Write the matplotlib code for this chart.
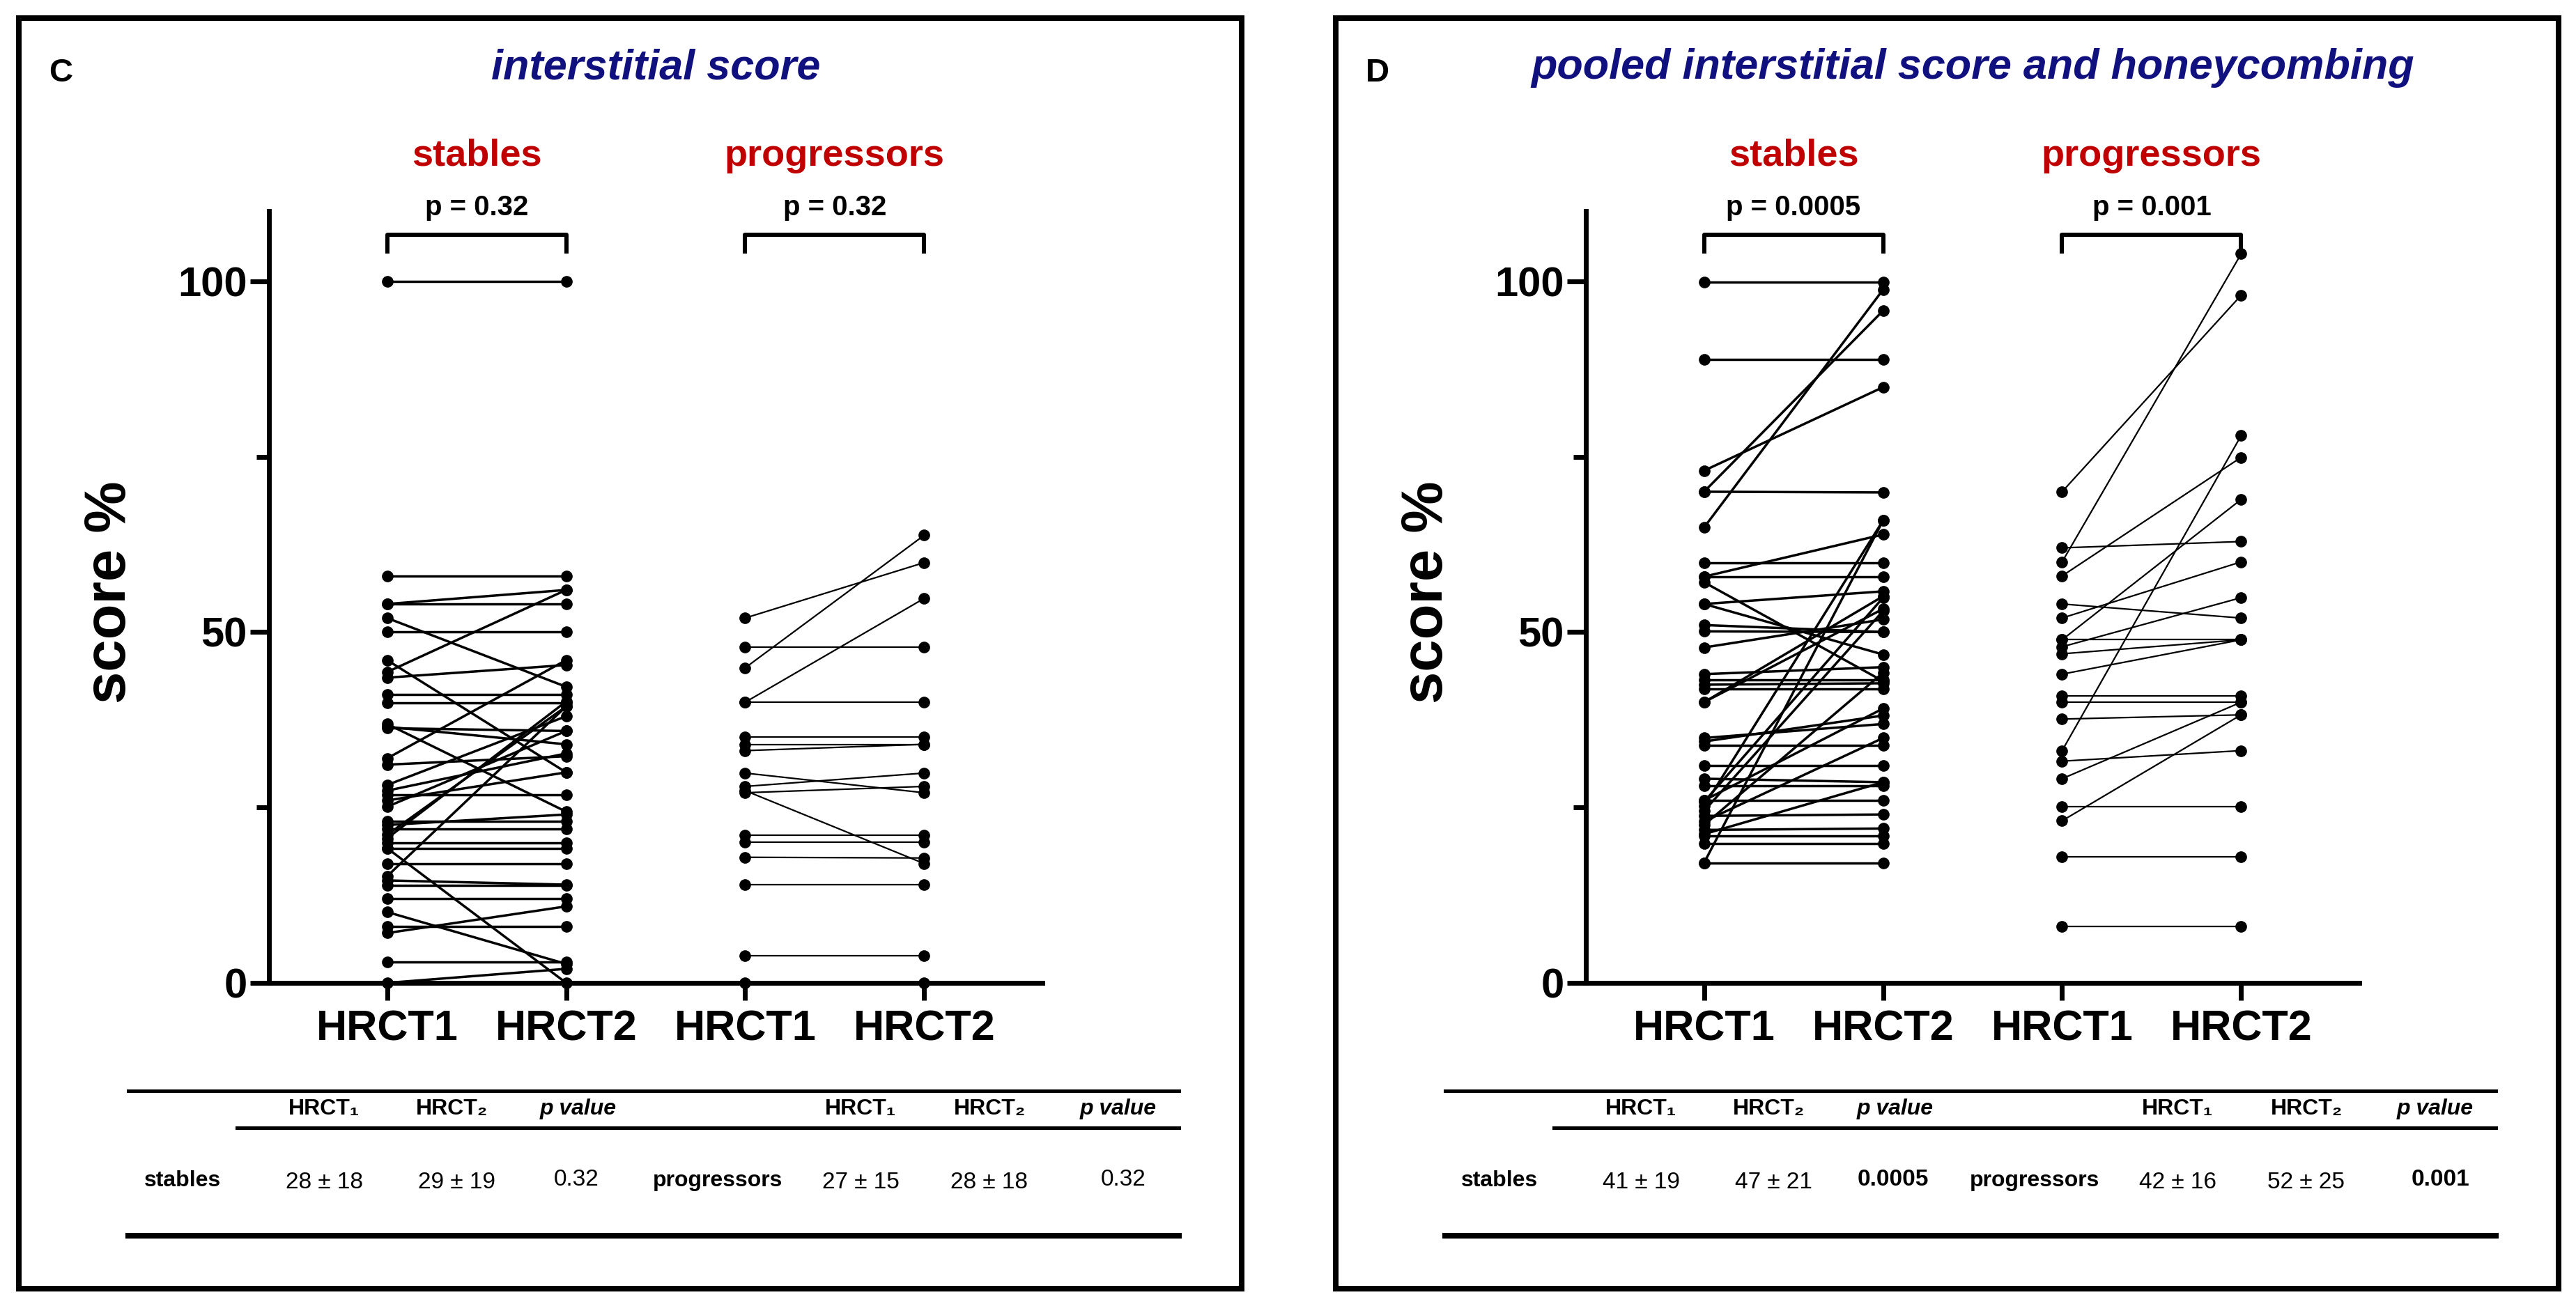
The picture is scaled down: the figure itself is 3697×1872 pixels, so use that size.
import matplotlib
matplotlib.use('Agg')
import matplotlib.pyplot as plt
from matplotlib.lines import Line2D
from matplotlib.patches import Rectangle

plt.rcParams['font.family'] = ['Liberation Sans', 'DejaVu Sans']

# ---- data (score %, HRCT1 -> HRCT2 per patient) ----
c_st_1 = [100, 58, 54, 54, 52, 50, 46, 44.3, 43.5, 41.1, 39.9, 36.9, 36.3, 36.5, 32, 31.1,
          28.2, 27.4, 26.8, 26, 25.1, 23, 22.5, 21.9, 21.1, 20.6, 20, 19.2, 19.2, 17, 15.2,
          14.6, 13.9, 12, 10.1, 8, 7.1, 3, 0]
c_st_2 = [100, 58, 56, 54, 42.2, 50, 30, 56, 45.3, 41.1, 39.9, 24.4, 35.9, 34, 46, 32.3,
          38, 32.7, 26.8, 30, 35.9, 23, 24, 21.9, 39.4, 40.1, 20, 0, 19.2, 17, 39.4,
          14, 13.9, 12, 2.7, 8, 10.9, 3, 2]
c_pr_1 = [52.0, 47.9, 44.9, 40.0, 40.0, 35.0, 34.0, 33.1, 29.9, 28.0, 27.4, 27.1, 21.0,
          20.1, 17.9, 14.0, 3.9, 0]
c_pr_2 = [59.9, 47.9, 63.8, 54.8, 40.0, 35.0, 34.0, 34.0, 27.1, 29.9, 17.0, 28.0, 21.0,
          20.1, 17.8, 14.0, 3.9, 0]

d_st_1 = [99.9, 88.9, 73.0, 70.0, 70.0, 64.9, 59.9, 57.9, 57.9, 57.1, 54.0, 54.0, 51.0,
          50.1, 47.8, 44.0, 43.2, 42.5, 41.9, 40.0, 40.0, 34.9, 34.4, 33.9, 31.0, 29.1,
          28.1, 26.0, 26.0, 25.2, 25.8, 24.5, 23.8, 23.0, 22.5, 21.8, 21.2, 20.9, 19.9,
          17.1, 17.1]
d_st_2 = [99.9, 88.9, 84.9, 95.8, 69.9, 98.8, 59.9, 63.9, 57.9, 43.0, 55.8, 46.8, 50.0,
          50.0, 51.8, 45.0, 43.2, 42.7, 41.9, 55.1, 53.3, 36.9, 38.1, 33.9, 31.0, 28.6,
          28.1, 39.1, 26.0, 65.9, 54.9, 53.0, 24.0, 34.9, 44.2, 22.0, 28.6, 20.9, 19.9,
          17.1, 65.9]
d_pr_1 = [70.0, 62.0, 60.0, 58.0, 54.0, 52.0, 48.9, 48.9, 47.9, 46.9, 44.0, 40.9, 40.0,
          37.6, 33.1, 31.6, 29.1, 25.1, 23.1, 18.0, 8.0]
d_pr_2 = [98.0, 62.9, 103.9, 74.9, 52.0, 60.0, 68.9, 48.9, 54.9, 48.9, 48.9, 40.9, 40.0,
          38.2, 78.0, 33.1, 40.0, 25.1, 38.2, 18.0, 8.0]

x_labels = ['HRCT1', 'HRCT2', 'HRCT1', 'HRCT2']
groups = ['stables', 'progressors']

c_title = 'interstitial score'
d_title = 'pooled interstitial score and honeycombing'
c_pvals = ['p = 0.32', 'p = 0.32']
d_pvals = ['p = 0.0005', 'p = 0.001']

tab_head = ['HRCT\u2081', 'HRCT\u2082', 'p value']
c_tab_st = ['28 \u00b1 18', '29 \u00b1 19', '0.32']
c_tab_pr = ['27 \u00b1 15', '28 \u00b1 18', '0.32']
d_tab_st = ['41 \u00b1 19', '47 \u00b1 21', '0.0005']
d_tab_pr = ['42 \u00b1 16', '52 \u00b1 25', '0.001']

NAVY = '#10107f'
RED = '#c00000'

W, H = 3697, 1872
fig = plt.figure(figsize=(W / 100, H / 100), dpi=100)


def fx(x):
    return x / W


def fy(y):
    return 1 - y / H


def panel(x0, letter, title, pvals, st1, st2, pr1, pr2,
          tab_st, tab_pr, bold_p):
    # frame round the panel
    fig.patches.append(Rectangle((fx(x0 + 27), fy(1850)), 1755 / W, 1824 / H,
                                 transform=fig.transFigure, fill=False,
                                 lw=5.8, ec='black'))
    ax_left = x0 + 386
    ax = fig.add_axes([fx(ax_left), fy(1411), 1110 / W, 1108 / H])
    for a, b in zip(st1, st2):
        ax.plot([1, 2], [a, b], '-o', color='black', lw=2.5, ms=11, clip_on=False)
    for a, b in zip(pr1, pr2):
        ax.plot([3, 4], [a, b], '-o', color='black', lw=1.6, ms=11, clip_on=False)
    ax.set_xlim(0.34, 4.66)
    ax.set_ylim(0, 110)
    ax.spines['top'].set_visible(False)
    ax.spines['right'].set_visible(False)
    ax.spines['left'].set_linewidth(5)
    ax.spines['bottom'].set_linewidth(5)
    ax.set_yticks([0, 50, 100])
    ax.set_yticks([25, 75], minor=True)
    ax.set_xticks([1, 2, 3, 4])
    ax.set_xticklabels(x_labels, fontsize=44, fontweight='bold')
    ax.set_yticklabels(['0', '50', '100'], fontsize=43, fontweight='bold')
    ax.tick_params(axis='y', which='major', length=19.5, width=5, pad=3)
    ax.tick_params(axis='y', which='minor', length=13, width=5)
    ax.tick_params(axis='x', length=18, width=5, pad=10)

    for i, g in enumerate(groups):
        xc = 1.5 + 2 * i
        ax.text(xc, 116.5, g, color=RED, fontsize=39, fontweight='bold',
                ha='center', va='baseline', clip_on=False)
        ax.text(xc, 109.4, pvals[i], fontsize=29, fontweight='bold',
                ha='center', va='baseline', clip_on=False)
        ax.plot([xc - 0.5, xc - 0.5, xc + 0.5, xc + 0.5], [103.9, 106.6, 106.6, 103.9],
                color='black', lw=4.3, clip_on=False, solid_capstyle='butt')

    fig.text(fx(ax_left - 228), fy(850), 'score %', rotation=90, fontsize=60,
             fontweight='bold', ha='center', va='center')
    fig.text(fx(x0 + 70), fy(117), letter, fontsize=34, fontweight='bold',
             ha='left', va='baseline')
    fig.text(fx(ax_left + 555), fy(113), title, color=NAVY, fontsize=44,
             fontweight='bold', style='italic', ha='center', va='baseline')

    # summary table under the plot
    x1 = x0 + 184
    x2 = x0 + 1692
    fig.add_artist(Line2D([fx(x1), fx(x2)], [fy(1566), fy(1566)], lw=3.6, color='black'))
    fig.add_artist(Line2D([fx(x0 + 340), fx(x2)], [fy(1619), fy(1619)], lw=3.6, color='black'))
    fig.add_artist(Line2D([fx(x1), fx(x2)], [fy(1774), fy(1774)], lw=5.8, color='black'))
    head_x = [465, 648, 830, 1235, 1420, 1605]
    for k, hx in enumerate(head_x):
        h = tab_head[k % 3]
        fig.text(fx(x0 + hx), fy(1592), h, fontsize=23, fontweight='bold',
                 style='italic' if k % 3 == 2 else 'normal',
                 ha='center', va='center')
    fig.text(fx(x0 + 262), fy(1695), groups[0], fontsize=23, fontweight='bold',
             ha='center', va='center')
    fig.text(fx(x0 + 1030), fy(1695), groups[1], fontsize=23, fontweight='bold',
             ha='center', va='center')
    val_x = [465, 655, 827, 1235, 1420, 1612]
    vals = tab_st + tab_pr
    for k, vx in enumerate(val_x):
        is_p = k % 3 == 2
        fig.text(fx(x0 + vx), fy(1697 if not is_p else 1693), vals[k],
                 fontsize=24,
                 fontweight='bold' if (is_p and bold_p) else 'normal',
                 ha='center', va='center')
    return ax


panel(0, 'C', c_title, c_pvals, c_st_1, c_st_2, c_pr_1, c_pr_2,
      c_tab_st, c_tab_pr, False)
panel(1890, 'D', d_title, d_pvals, d_st_1, d_st_2, d_pr_1, d_pr_2,
      d_tab_st, d_tab_pr, True)

fig.savefig('out.png', dpi=100, facecolor='white')
